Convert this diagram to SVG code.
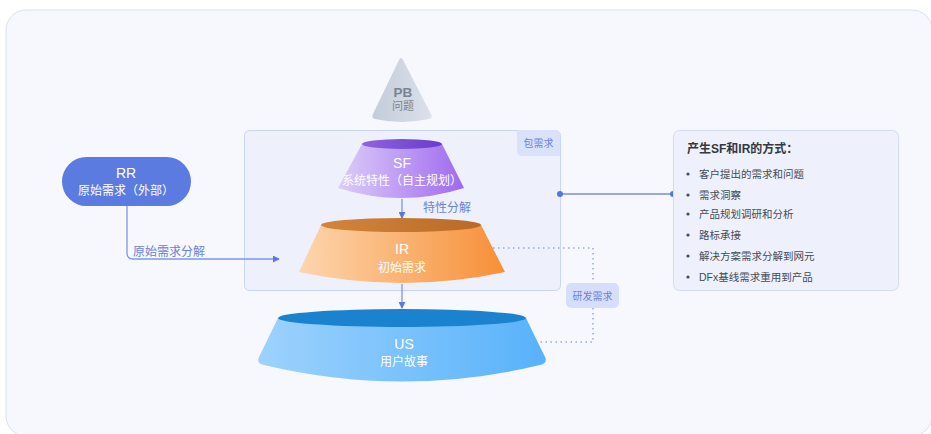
<svg xmlns="http://www.w3.org/2000/svg" width="931" height="434" viewBox="0 0 931 434">
<defs>
<style>
text{font-family:"Liberation Sans","Noto Sans CJK SC",sans-serif;}
.w{fill:#ffffff;text-anchor:middle;}
.lbl{fill:#6d82d6;font-size:12px;}
.tag{fill:#6d82d6;font-size:10px;text-anchor:middle;}
.item{fill:#444a55;font-size:10.5px;}
.conn{fill:none;stroke:#7d96e6;stroke-width:1.3;}
</style>
<linearGradient id="gPB" x1="0" y1="0" x2="1" y2="0"><stop offset="0" stop-color="#c3ccda"/><stop offset="1" stop-color="#dce1ea"/></linearGradient>
<linearGradient id="gSF" x1="0" y1="0" x2="1" y2="0"><stop offset="0" stop-color="#dccdf8"/><stop offset="1" stop-color="#9f6aef"/></linearGradient>
<linearGradient id="gSFt" x1="0" y1="0" x2="1" y2="0"><stop offset="0" stop-color="#8e63de"/><stop offset="1" stop-color="#6a3ccb"/></linearGradient>
<linearGradient id="gIR" x1="0" y1="0" x2="1" y2="0"><stop offset="0" stop-color="#fdd6ae"/><stop offset="1" stop-color="#f78f37"/></linearGradient>
<linearGradient id="gIRt" x1="0" y1="0" x2="1" y2="0"><stop offset="0" stop-color="#d4853c"/><stop offset="1" stop-color="#b86a27"/></linearGradient>
<linearGradient id="gUS" x1="0" y1="0" x2="1" y2="0"><stop offset="0" stop-color="#9dd2fd"/><stop offset="1" stop-color="#58b2fa"/></linearGradient>
<marker id="arr" viewBox="0 0 8 8" refX="7" refY="4" markerWidth="7" markerHeight="7" markerUnits="userSpaceOnUse" orient="auto"><path d="M0,0 L8,4 L0,8 Z" fill="#5b78dc"/></marker>
</defs>
<rect x="0" y="0" width="931" height="434" fill="#ffffff"/>
<rect x="6" y="10" width="926" height="426" rx="20" fill="#f7f8fd" stroke="#d8e0f5" stroke-width="1"/>

<g id="pkg">
<rect x="244.5" y="130.5" width="316" height="160" rx="5" fill="#eef1fc" stroke="#c9d5f6" stroke-width="1"/>
</g>

<g id="connectors">
<line class="conn" x1="402" y1="199" x2="402" y2="218" marker-end="url(#arr)"/>
<line class="conn" x1="402" y1="284" x2="402" y2="308" marker-end="url(#arr)"/>
<path class="conn" d="M127,206 L127,253 Q127,259 133,259 L279,259" marker-end="url(#arr)"/>
<path d="M493,248 L593,248 L593,342 L537,342" fill="none" stroke="#93a7ea" stroke-width="1.5" stroke-dasharray="1.5,3.5"/>
<line x1="560" y1="194" x2="673" y2="194" stroke="#95aaeb" stroke-width="2"/>
<circle cx="560" cy="194" r="3" fill="#5576de"/>
<circle cx="673" cy="194" r="3" fill="#5576de"/>
<text class="lbl" x="133" y="255.5">原始需求分解</text>
<text class="lbl" x="423" y="211.5">特性分解</text>
</g>

<g id="tag-pkg">
<path d="M517,130 L555,130 Q560,130 560,135 L560,156 L522,156 Q517,156 517,151 Z" fill="#dae2fb"/>
<text class="tag" x="538.5" y="146.5">包需求</text>
</g>

<g id="PB">
<path d="M399,60 Q401,56 403,60 L431,114 Q433,118 429,119 Q402,125 375,119 Q371,118 373,114 Z" fill="url(#gPB)"/>
<text x="403" y="96.5" text-anchor="middle" font-size="13.5" font-weight="bold" fill="#7b8391">PB</text>
<text x="403" y="110" text-anchor="middle" font-size="11" fill="#7b8391">问题</text>
</g>

<g id="SF">
<path d="M362,144 L338,188 Q401,208 464,188 L442,144 Z" fill="url(#gSF)"/>
<ellipse cx="402" cy="144" rx="40" ry="5" fill="url(#gSFt)"/>
<text class="w" x="402" y="167.5" font-size="14">SF</text>
<text class="w" x="402" y="184.5" font-size="12">系统特性（自主规划）</text>
</g>

<g id="IR">
<path d="M321,225 L299,272 Q402,294 505,272 L481,225 Z" fill="url(#gIR)"/>
<ellipse cx="401" cy="225" rx="80" ry="7" fill="url(#gIRt)"/>
<text class="w" x="402" y="254" font-size="14">IR</text>
<text class="w" x="402" y="271.5" font-size="12">初始需求</text>
</g>

<g id="US">
<path d="M278,318 L259,357 Q256,364 264,365 Q402,398 540,365 Q548,363 545,357 L526,318 Z" fill="url(#gUS)"/>
<ellipse cx="402" cy="318" rx="124" ry="9" fill="#1b82cf"/>
<text class="w" x="404" y="348.5" font-size="14">US</text>
<text class="w" x="404" y="365.5" font-size="12">用户故事</text>
</g>

<g id="RR">
<rect x="62" y="157" width="129" height="49" rx="24.5" fill="#5b7be0"/>
<text class="w" x="126" y="178" font-size="14">RR</text>
<text class="w" x="126" y="195" font-size="12">原始需求（外部）</text>
</g>

<g id="tag-dev">
<rect x="566" y="283" width="53" height="25" rx="5" fill="#d6defb"/>
<text class="tag" x="592.5" y="299.5">研发需求</text>
</g>

<g id="ways">
<rect x="673.5" y="130.5" width="225" height="160" rx="6" fill="#eef1fc" stroke="#d3dcf5" stroke-width="1"/>
<text x="687" y="152.5" font-size="12" font-weight="bold" fill="#333842">产生SF和IR的方式：</text>
<g fill="#444a55">
<circle cx="688" cy="174" r="1.6"/><circle cx="688" cy="195" r="1.6"/><circle cx="688" cy="214" r="1.6"/>
<circle cx="688" cy="235" r="1.6"/><circle cx="688" cy="256" r="1.6"/><circle cx="688" cy="277" r="1.6"/>
</g>
<text class="item" x="699" y="177.5">客户提出的需求和问题</text>
<text class="item" x="699" y="198.5">需求洞察</text>
<text class="item" x="699" y="217.5">产品规划调研和分析</text>
<text class="item" x="699" y="238.5">路标承接</text>
<text class="item" x="699" y="259.5">解决方案需求分解到网元</text>
<text class="item" x="699" y="280.5">DFx基线需求重用到产品</text>
</g>
</svg>
